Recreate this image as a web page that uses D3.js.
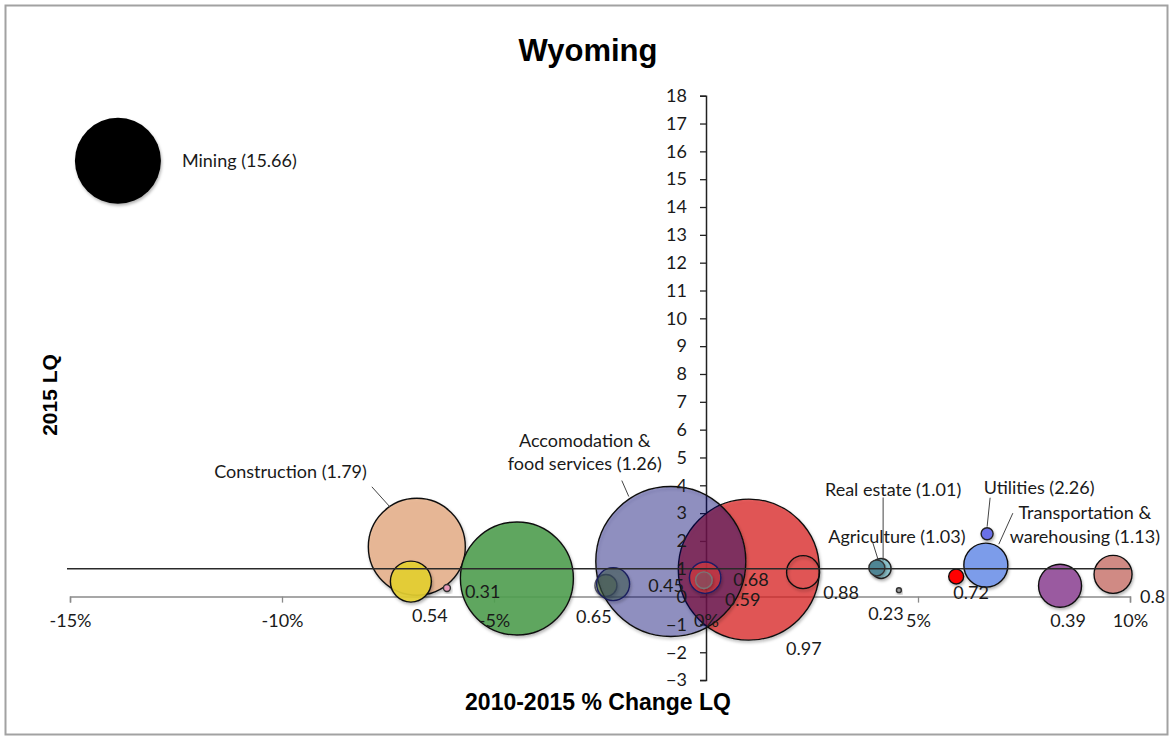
<!DOCTYPE html>
<html>
<head>
<meta charset="utf-8">
<script src="https://cdn.jsdelivr.net/npm/d3@7"></script>
<style>
  body { margin: 0; background: #fff; }
  svg text { font-family: Lato, "Open Sans", sans-serif; fill: #1a1a1a; }
  .title, .axis-title { font-family: "Liberation Sans", Arial, sans-serif; font-weight: bold; fill: #000; }
</style>
</head>
<body>
<svg id="chart" width="1173" height="740"></svg>
<script>
// Industries (null where the bubble carries only its LQ value)
const industries = [
  "Mining", "Construction", null, null, null, null, null,
  "Accomodation &\nfood services", null, null, null, null,
  "Real estate", "Agriculture", null, null,
  "Transportation &\nwarehousing", "Utilities", null, null
];
// 2010-2015 % change in LQ
const pctChange = [-13.87, -6.82, -6.96, -6.11, -4.46, -2.36, 1.01, -0.83, -2.19, -0.02,
                   -0.05, 2.29, 4.13, 4.03, 4.55, 5.90, 6.60, 6.63, 8.35, 9.60];
// 2015 location quotient
const lq2015 = [15.66, 1.79, 0.54, 0.31, 0.65, 0.40, 0.97, 1.26, 0.45, 0.68,
                0.59, 0.88, 1.01, 1.03, 0.23, 0.72, 1.13, 2.26, 0.39, 0.8];
// Relative bubble size (area)
const bubbleSize = [18.5, 23.5, 4.2, 0.12, 31.9, 1.21, 49.7, 56.25, 2.72, 2.46,
                    0.69, 2.72, 1.0, 0.64, 0.06, 0.56, 4.84, 0.36, 4.62, 3.61];
// Whether the value label is shown
const showLabel = [true, true, true, true, true, false, true, true, true, true,
                   true, true, true, true, true, true, true, true, true, true];

const xTicks = [-15, -10, -5, 0, 5, 10];
const yTicks = d3.range(-3, 19);

// Bubble styles
const bubbleStyle = [
  { fill: "#000000", stroke: "none" },
  { fill: "rgba(232,180,143,0.9)", stroke: "#111" },
  { fill: "rgba(230,208,50,0.9)", stroke: "#111" },
  { fill: "#e89ab8", stroke: "#333" },
  { fill: "rgba(80,160,80,0.88)", stroke: "#111" },
  { fill: "#c8d78c", stroke: "#556" },
  { fill: "rgba(222,33,33,0.7)", stroke: "#111" },
  { fill: "rgba(0,0,117,0.37)", stroke: "#111" },
  { fill: "rgba(60,90,80,0.5)", stroke: "#1a1f5e" },
  { fill: "rgba(230,60,60,0.6)", stroke: "#1a1a66" },
  { fill: "rgba(140,80,95,0.75)", stroke: "#777" },
  { fill: "none", stroke: "#111" },
  { fill: "#8cc3cc", stroke: "#222" },
  { fill: "#4f8594", stroke: "#333" },
  { fill: "#999", stroke: "#333" },
  { fill: "#ff0000", stroke: "#111" },
  { fill: "#7c9cea", stroke: "#111" },
  { fill: "#6b6fe6", stroke: "#222" },
  { fill: "#9a5aa0", stroke: "#111" },
  { fill: "#d08a84", stroke: "#111" }
];

// Label placement relative to each bubble centre
const labelLayout = [
  { dx: 64, dy: 0, anchor: "start" },
  { dx: -50, dy: -75, anchor: "end", leader: [-45, -60, -27, -40] },
  { dx: 19, dy: 34, anchor: "middle" },
  { dx: 18, dy: 4, anchor: "start" },
  { dx: 77, dy: 38, anchor: "middle" },
  null,
  { dx: 55, dy: 79, anchor: "middle" },
  { dx: -86, dy: -121, anchor: "middle", lineGap: 23, leader: [-49, -81, -42, -65] },
  { dx: 53, dy: 2, anchor: "middle" },
  { dx: 28, dy: 2, anchor: "start" },
  { dx: 21, dy: 20, anchor: "start" },
  { dx: 38, dy: 21, anchor: "middle" },
  { dx: 12, dy: -79, anchor: "middle", leader: [2, -71, 2, -8] },
  { dx: 20, dy: -31, anchor: "middle", leader: [-4, -25, 1, -9] },
  { dx: -13, dy: 23, anchor: "middle" },
  { dx: 15, dy: 16, anchor: "middle" },
  { dx: 99, dy: -52, anchor: "middle", lineGap: 24, leader: [27, -52, 13, -21] },
  { dx: 52, dy: -46, anchor: "middle", leader: [3, -36, 0, -7] },
  { dx: 8, dy: 35, anchor: "middle" },
  { dx: 27, dy: 22, anchor: "start" }
];

const data = industries.map((name, i) => ({
  name, x: pctChange[i], y: lq2015[i], size: bubbleSize[i],
  show: showLabel[i], style: bubbleStyle[i], layout: labelLayout[i]
}));

const svg = d3.select("#chart");
const W = 1173, H = 740;
const FONT = 18;

// Frame
svg.append("rect").attr("x", 5.5).attr("y", 5.5).attr("width", W - 11).attr("height", H - 11)
  .attr("fill", "#fff").attr("stroke", "#a2a2a2").attr("stroke-width", 2);

const x = d3.scaleLinear().domain([-15, 10]).range([70, 1130]);
const y = d3.scaleLinear().domain([-3, 18]).range([680.1, 95.7]);
const r = d3.scaleSqrt().domain([0, 56.25]).range([0, 75]);

const defs = svg.append("defs");
const sh = defs.append("filter").attr("id", "shadow")
  .attr("x", "-30%").attr("y", "-30%").attr("width", "160%").attr("height", "160%");
sh.append("feDropShadow").attr("dx", 1).attr("dy", 2).attr("stdDeviation", 1.6)
  .attr("flood-color", "#000").attr("flood-opacity", 0.3);

// Title
svg.append("text").attr("class", "title").attr("x", 588).attr("y", 61)
  .attr("text-anchor", "middle").style("font-size", "31px").text("Wyoming");

const xAxis = d3.axisBottom(x).tickValues(xTicks).tickSize(6).tickPadding(12)
  .tickFormat(d => d + "%");
const yAxis = d3.axisLeft(y).tickValues(yTicks).tickSize(6).tickPadding(13);

// Axis lines (beneath the bubbles)
function styleLines(g, color) {
  g.select(".domain").attr("stroke", color).attr("stroke-width", 1.5);
  g.selectAll(".tick line").attr("stroke", color).attr("stroke-width", 1.3);
  g.selectAll(".tick text").remove();
}
const gx = svg.append("g").attr("transform", `translate(0,${y(0)})`).call(xAxis);
styleLines(gx, "#8a8a8a");
const gy = svg.append("g").attr("transform", `translate(${x(0)},0)`).call(yAxis);
styleLines(gy, "#222");

// Axis titles
svg.append("text").attr("class", "axis-title").attr("x", 598).attr("y", 710)
  .attr("text-anchor", "middle").style("font-size", "23px").text("2010-2015 % Change LQ");
svg.append("text").attr("class", "axis-title")
  .attr("transform", `translate(57,395) rotate(-90)`)
  .attr("text-anchor", "middle").style("font-size", "21px").text("2015 LQ");

// Bubbles
svg.append("g").selectAll("circle").data(data).join("circle")
  .attr("cx", d => x(d.x)).attr("cy", d => y(d.y)).attr("r", d => r(d.size))
  .attr("fill", d => d.style.fill).attr("stroke", d => d.style.stroke)
  .attr("stroke-width", 1.4)
  .attr("filter", "url(#shadow)");

// Reference line at LQ = 1
svg.append("line").attr("x1", x(-15) - 3).attr("x2", x(10)).attr("y1", y(1)).attr("y2", y(1))
  .attr("stroke", "#2a2a2a").attr("stroke-width", 1.6);

// Tick labels (above the bubbles)
function styleText(g) {
  g.select(".domain").remove();
  g.selectAll(".tick line").remove();
  g.selectAll(".tick text").style("font-size", FONT + "px")
    .style("font-family", "Lato, sans-serif").attr("fill", "#1a1a1a");
}
svg.append("g").attr("transform", `translate(0,${y(0)})`).call(xAxis).call(styleText);
svg.append("g").attr("transform", `translate(${x(0)},0)`).call(yAxis).call(styleText);

// Leader lines and labels
const lab = svg.append("g");
data.forEach(d => {
  if (!d.show || !d.layout) return;
  const cx = x(d.x), cy = y(d.y), L = d.layout;
  if (L.leader) {
    lab.append("line")
      .attr("x1", cx + L.leader[0]).attr("y1", cy + L.leader[1])
      .attr("x2", cx + L.leader[2]).attr("y2", cy + L.leader[3])
      .attr("stroke", "#444").attr("stroke-width", 1);
  }
  const lines = d.name ? d.name.split("\n") : [""];
  const last = lines.length - 1;
  lines[last] = d.name ? `${lines[last]} (${d.y})` : String(d.y);
  const gap = L.lineGap || 0;
  lines.forEach((t, k) => {
    lab.append("text")
      .attr("x", cx + L.dx).attr("y", cy + L.dy + k * gap)
      .attr("dy", "0.35em").attr("text-anchor", L.anchor)
      .style("font-size", FONT + "px").text(t);
  });
});
</script>
</body>
</html>
